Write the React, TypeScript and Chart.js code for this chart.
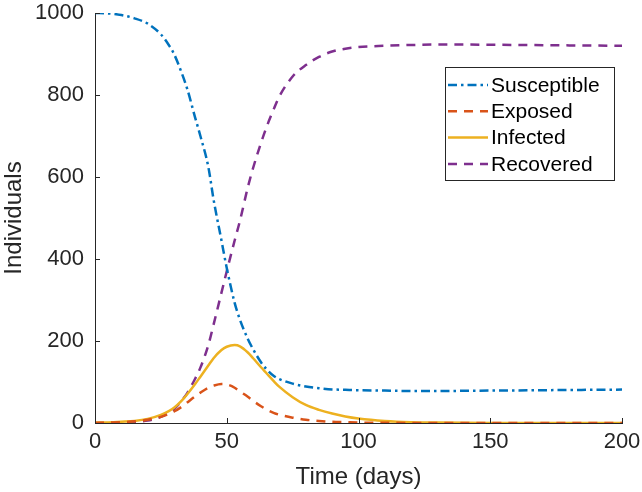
import React, { useEffect, useRef } from "react";
import { Chart, registerables } from "chart.js";

Chart.register(...registerables);

const days = [0, 5, 10, 15, 20, 25, 28, 30, 33, 35, 38, 40, 43, 45, 48, 50, 53, 55, 58, 60, 63, 65, 68, 70, 75, 80, 85, 90, 95, 100, 110, 120, 130, 140, 150, 160, 170, 180, 190, 200];
const susceptible = [1000, 999, 995, 987, 974, 948, 922, 900, 852, 815, 745, 700, 625, 545, 445, 378, 293, 252, 205, 180, 148, 132, 114, 107, 96, 89, 85, 82, 81, 80, 79, 78, 78, 78.5, 79, 79.5, 80, 80.5, 81, 81.5];
const exposed = [0, 1, 2, 4, 8, 15, 22, 28, 40, 50, 65, 74, 86, 91, 95, 94, 86, 77, 64, 54, 41, 33, 24, 20, 13, 8, 5, 3, 2, 1, 0.5, 0.2, 0, 0, 0, 0, 0, 0, 0, 0];
const infected = [1, 1.5, 3, 5, 10, 20, 29, 37, 55, 70, 95, 113, 140, 158, 178, 186, 190, 187, 172, 158, 136, 122, 101, 88, 63, 44, 32, 23, 16, 11, 5, 2, 1, 0.5, 0.3, 0.2, 0.1, 0, 0, 0];
const recovered = [0, 0.5, 1, 3, 6, 15, 25, 34, 55, 73, 108, 135, 190, 240, 318, 370, 445, 493, 575, 622, 683, 720, 768, 797, 845, 873, 893, 906, 913, 917, 920, 922, 923, 923, 922.5, 922, 921.5, 921, 920.5, 920];

const seriesNames = ["Susceptible", "Exposed", "Infected", "Recovered"];
const seriesValues = [susceptible, exposed, infected, recovered];
const seriesColors = ["#0072BD", "#D95319", "#EDB120", "#7E2F8E"];
const seriesDash = [[9, 4, 2.5, 4], [9, 7], [], [9, 7]];

const xTicks = [0, 50, 100, 150, 200];
const yTicks = [0, 200, 400, 600, 800, 1000];

const FONT = "'Liberation Sans', Arial, Helvetica, sans-serif";
const TEXT = "#262626";

const inwardTicks = {
  id: "inwardTicks",
  afterDraw(chart: any) {
    const ctx = chart.ctx;
    const a = chart.chartArea;
    const xs = chart.scales.x;
    const ys = chart.scales.y;
    ctx.save();
    ctx.strokeStyle = TEXT;
    ctx.lineWidth = 1;
    ctx.beginPath();
    xTicks.forEach((t) => {
      const px = Math.round(xs.getPixelForValue(t)) + 0.5;
      ctx.moveTo(px, a.bottom);
      ctx.lineTo(px, a.bottom - 5);
    });
    yTicks.forEach((t) => {
      const py = Math.round(ys.getPixelForValue(t)) + 0.5;
      ctx.moveTo(a.left, py);
      ctx.lineTo(a.left + 5, py);
    });
    ctx.stroke();
    ctx.restore();
  },
};

const boxLegend = {
  id: "boxLegend",
  afterDraw(chart: any) {
    const ctx = chart.ctx;
    const bx = 445.5, by = 67.5, bw = 169, bh = 113;
    ctx.save();
    ctx.fillStyle = "#ffffff";
    ctx.fillRect(bx, by, bw, bh);
    ctx.strokeStyle = TEXT;
    ctx.lineWidth = 1;
    ctx.setLineDash([]);
    ctx.strokeRect(bx, by, bw, bh);
    ctx.font = `21px ${FONT}`;
    ctx.textBaseline = "middle";
    ctx.textAlign = "left";
    seriesNames.forEach((name, i) => {
      const cy = 85 + i * 26.3;
      ctx.beginPath();
      ctx.strokeStyle = seriesColors[i];
      ctx.lineWidth = 2.5;
      ctx.setLineDash(seriesDash[i]);
      ctx.moveTo(448, cy);
      ctx.lineTo(488, cy);
      ctx.stroke();
      ctx.setLineDash([]);
      ctx.fillStyle = "#000000";
      ctx.fillText(name, 491, cy + 1);
    });
    ctx.restore();
  },
};

export default function App() {
  const ref = useRef<HTMLCanvasElement>(null);
  useEffect(() => {
    if (!ref.current) return;
    const chart = new Chart(ref.current, {
      type: "line",
      data: {
        datasets: seriesNames.map((name, i) => ({
          label: name,
          data: days.map((d, j) => ({ x: d, y: seriesValues[i][j] })),
          borderColor: seriesColors[i],
          backgroundColor: seriesColors[i],
          borderWidth: 2.5,
          borderDash: seriesDash[i],
          pointRadius: 0,
          cubicInterpolationMode: "monotone",
          fill: false,
        })),
      },
      options: {
        animation: false,
        responsive: false,
        maintainAspectRatio: false,
        layout: { padding: { top: 13, right: 20, left: 0, bottom: 0 } },
        plugins: { legend: { display: false }, tooltip: { enabled: false } },
        scales: {
          x: {
            type: "linear",
            min: 0,
            max: 200,
            afterBuildTicks: (s: any) => { s.ticks = xTicks.map((v) => ({ value: v })); },
            afterFit: (s: any) => { s.height = 69; s.paddingLeft = 0; s.paddingRight = 0; },
            grid: { display: true, drawOnChartArea: false, drawTicks: false },
            border: { display: true, color: TEXT, width: 1 },
            ticks: { font: { family: FONT, size: 22 }, color: TEXT, padding: 6, maxRotation: 0, callback: (v: any) => String(v) },
            title: { display: true, text: "Time (days)", font: { family: FONT, size: 24 }, color: TEXT, padding: 0 },
          },
          y: {
            type: "linear",
            min: 0,
            max: 1000,
            afterBuildTicks: (s: any) => { s.ticks = yTicks.map((v) => ({ value: v })); },
            afterFit: (s: any) => { s.width = 95; s.paddingTop = 0; s.paddingBottom = 0; },
            grid: { display: true, drawOnChartArea: false, drawTicks: false },
            border: { display: true, color: TEXT, width: 1 },
            ticks: { font: { family: FONT, size: 22 }, color: TEXT, padding: 11, callback: (v: any) => String(v) },
            title: { display: true, text: "Individuals", font: { family: FONT, size: 24 }, color: TEXT, padding: 0 },
          },
        },
      },
      plugins: [inwardTicks, boxLegend],
    } as any);
    return () => chart.destroy();
  }, []);
  return (
    <div style={{ position: "absolute", left: 0, top: 0, width: 642, height: 492, background: "#fff" }}>
      <canvas ref={ref} width={642} height={492} style={{ width: 642, height: 492, display: "block" }} />
    </div>
  );
}
